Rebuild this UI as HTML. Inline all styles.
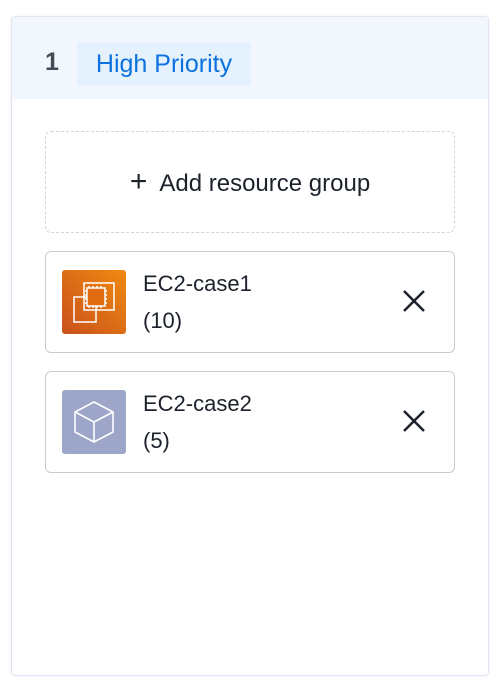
<!DOCTYPE html>
<html><head><style>
body{margin:0;width:502px;height:688px;background:#fff;font-family:"Liberation Sans",sans-serif;position:relative;overflow:hidden}
.outer{position:absolute;left:11px;top:16px;width:476px;height:658px;border:1.5px solid #e3e5f2;border-radius:4px;box-shadow:0 0 3px #eef0f6}
.hdr{position:absolute;left:0;top:0;width:476px;height:82px;background:#f2f7fd}
.num{position:absolute;left:33px;top:31px;font-size:25px;font-weight:bold;color:#444b55}
.badge{position:absolute;left:65px;top:25px;width:174px;height:44px;background:#e5f1fd;border-radius:3px;color:#0b72df;font-size:25px;line-height:44px;text-align:center}
.add{position:absolute;left:45px;top:131px;width:408px;height:100px;border:1.5px dashed #d3d3d3;border-radius:6px;text-align:center;line-height:100px;font-size:24px;color:#1c222b}
.card{position:absolute;left:45px;width:408px;height:100px;border:1.5px solid #c9cbcf;border-radius:6px}
.icon{position:absolute;left:16px;top:18px;width:64px;height:64px;border-radius:3px}
.t{position:absolute;left:97px;font-size:22px;color:#1c222b}
.x{position:absolute;left:355px;top:36px}
</style></head><body>
<div class="outer"><div class="hdr"><div class="num">1</div><div class="badge">High Priority</div></div></div>
<div class="add"><span style="font-size:30px;font-weight:300">+</span>&nbsp; Add resource group</div>
<div class="card" style="top:251px">
 <div class="icon" style="background:linear-gradient(45deg,#c8511b,#f08a10)">
  <svg width="64" height="64" fill="none" stroke="#fff" stroke-width="1.5"><rect x="12" y="27" width="22" height="25"/><rect x="22" y="13" width="30" height="27"/><rect x="25" y="18" width="18" height="18" fill="#e06c12"/><path d="M27 16v2M31 16v2M35 16v2M39 16v2M27 36v2M31 36v2M35 36v2M39 36v2M23 21h2M23 25h2M23 29h2M23 33h2M43 21h2M43 25h2M43 29h2M43 33h2"/></svg>
 </div>
 <div class="t" style="top:19px">EC2-case1</div><div class="t" style="top:56px">(10)</div>
 <svg class="x" width="26" height="26" stroke="#1c222b" stroke-width="2.5"><path d="M3 3L23 23M23 3L3 23"/></svg>
</div>
<div class="card" style="top:371px">
 <div class="icon" style="background:#9da5c9">
  <svg width="64" height="64" fill="none" stroke="#fff" stroke-width="1.6" stroke-linejoin="round"><path d="M32 12L51 22V42L32 52L13 42V22Z M13 22L32 32L51 22 M32 32V52"/></svg>
 </div>
 <div class="t" style="top:19px">EC2-case2</div><div class="t" style="top:56px">(5)</div>
 <svg class="x" width="26" height="26" stroke="#1c222b" stroke-width="2.5"><path d="M3 3L23 23M23 3L3 23"/></svg>
</div>
</body></html>
